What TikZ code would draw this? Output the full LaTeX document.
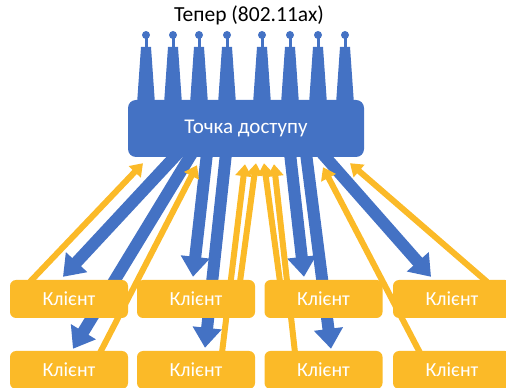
\documentclass[tikz,border=0pt]{standalone}
\usepackage{fontspec}
\setmainfont{Carlito}
\usepackage{tikz}
\usetikzlibrary{positioning, arrows.meta, calc, backgrounds}
\definecolor{apblue}{HTML}{4472C4}
\definecolor{clgold}{HTML}{FBBA28}

\begin{document}
\begin{tikzpicture}[x=1pt, y=1pt,
  apbox/.style={rectangle, rounded corners=8pt, fill=apblue, minimum width=236pt, minimum height=57pt, text=white, font=\fontsize{21}{24}\selectfont},
  client/.style={rectangle, rounded corners=6pt, fill=clgold, minimum width=118pt, minimum height=38pt, text=white, font=\fontsize{20}{24}\selectfont},
  dlink/.style={apblue, line width=12pt, -{Triangle[length=20pt, width=28pt]}},
  ulink/.style={clgold, line width=6pt, -{Triangle[length=12pt, width=16pt]}}]
\useasboundingbox (0,0) rectangle (506,388);
\clip (0,0) rectangle (506,388);
% title and access point
\node (title) at (249,373) {\fontsize{21.5}{24}\selectfont Тепер (802.11ax)};
\node[apbox] (ap) at (246,259.5) {Точка доступу};
% clients
\node[client] (c11) at (69,89) {Клієнт};
\node[client] (c12) at (196,89) {Клієнт};
\node[client] (c13) at (323.5,89) {Клієнт};
\node[client] (c14) at (452,89) {Клієнт};
\node[client] (c21) at (69,18) {Клієнт};
\node[client] (c22) at (196,18) {Клієнт};
\node[client] (c23) at (323.5,18) {Клієнт};
\node[client] (c24) at (452,18) {Клієнт};
% antennas
\foreach \ax in {146,173,199,227,262,290,318,345} {
  \fill[apblue] (\ax-5,341) -- (\ax+5,341) -- (\ax+9,284) -- (\ax-9,284) -- cycle;
  \fill[apblue] (\ax-1.5,340) rectangle (\ax+1.5,353);
  \fill[apblue] (\ax,353) circle (4);
}
% downlink, behind the boxes
\begin{scope}[on background layer]
\draw[dlink] ([xshift=-68pt,yshift=4pt]ap.south) -- ([xshift=-6pt,yshift=3pt]c11.north);
\draw[dlink] ([xshift=-54pt,yshift=4pt]ap.south) -- ([xshift=4pt,yshift=2pt]c21.north);
\draw[dlink] ([xshift=-39pt,yshift=4pt]ap.south) -- ([xshift=-3pt,yshift=3pt]c12.north);
\draw[dlink] ([xshift=-20pt,yshift=4pt]ap.south) -- ([xshift=9pt,yshift=3pt]c22.north);
\draw[dlink] ([xshift=44pt,yshift=4pt]ap.south) -- ([xshift=-19.5pt,yshift=3pt]c13.north);
\draw[dlink] ([xshift=60pt,yshift=4pt]ap.south) -- ([xshift=7.5pt,yshift=2pt]c23.north);
\draw[dlink] ([xshift=76pt,yshift=4pt]ap.south) -- ([xshift=-21pt,yshift=3pt]c14.north);
\end{scope}
% uplink
\draw[ulink] ([xshift=-39pt,yshift=-2pt]c11.north) -- ([xshift=-103pt,yshift=-6pt]ap.south);
\draw[ulink] ([xshift=31pt,yshift=-2pt]c21.north) -- ([xshift=-49pt,yshift=-8pt]ap.south);
\draw[ulink] ([xshift=26pt,yshift=-2pt]c22.north) -- ([xshift=-1pt,yshift=-7pt]ap.south);
\draw[ulink] ([xshift=44pt,yshift=-2pt]c12.north) -- ([xshift=10pt,yshift=-6pt]ap.south);
\draw[ulink] ([xshift=-43.5pt,yshift=-2pt]c13.north) -- ([xshift=18pt,yshift=-6pt]ap.south);
\draw[ulink] ([xshift=-28.5pt,yshift=-2pt]c23.north) -- ([xshift=28pt,yshift=-7pt]ap.south);
\draw[ulink] ([xshift=-32pt,yshift=-2pt]c24.north) -- ([xshift=77pt,yshift=-10pt]ap.south);
\draw[ulink] ([xshift=35pt,yshift=-2pt]c14.north) -- ([xshift=104pt,yshift=-6pt]ap.south);
\end{tikzpicture}
\end{document}
